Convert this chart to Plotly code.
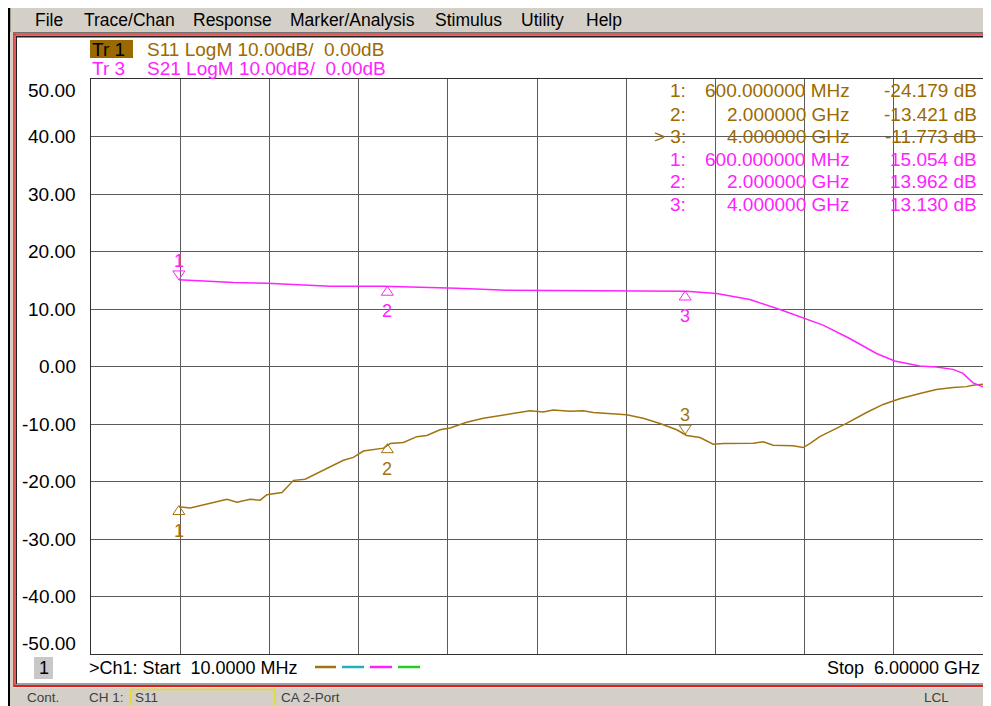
import plotly.graph_objects as go

# ---------------- data ----------------
start_ghz = 0.01
stop_ghz = 6.0
y_ticks = [50, 40, 30, 20, 10, 0, -10, -20, -30, -40, -50]

s11_freq = [0.60, 0.676, 0.811, 0.923, 0.990, 1.079, 1.146, 1.191, 1.292, 1.370,
            1.448, 1.571, 1.705, 1.772, 1.839, 1.974, 2.019, 2.108, 2.198, 2.265,
            2.354, 2.421, 2.533, 2.645, 2.824, 2.958, 3.047, 3.114, 3.226, 3.316,
            3.383, 3.495, 3.607, 3.718, 3.831, 3.943, 4.010, 4.099, 4.188, 4.256,
            4.457, 4.524, 4.591, 4.725, 4.792, 4.837, 4.904, 5.083, 5.218, 5.329,
            5.441, 5.576, 5.687, 5.799, 5.889, 5.933, 6.0]
s11_db = [-24.4, -24.6, -23.8, -23.1, -23.6, -23.1, -23.25, -22.3, -21.9, -19.8,
          -19.6, -18.0, -16.3, -15.8, -14.7, -14.2, -13.4, -13.2, -12.2, -12.0,
          -11.0, -10.7, -9.7, -9.0, -8.2, -7.7, -7.9, -7.55, -7.8, -7.7,
          -8.0, -8.2, -8.4, -9.0, -9.9, -11.0, -12.0, -12.35, -13.5, -13.4,
          -13.35, -13.1, -13.7, -13.8, -14.1, -13.4, -12.2, -9.9, -8.0, -6.6,
          -5.6, -4.7, -4.0, -3.65, -3.5, -3.25, -3.1]

s21_freq = [0.60, 0.788, 0.967, 1.191, 1.370, 1.616, 1.974, 2.198, 2.466, 2.802,
            3.092, 3.607, 4.010, 4.211, 4.435, 4.636, 4.792, 4.926, 5.105, 5.285,
            5.407, 5.575, 5.687, 5.799, 5.866, 5.933, 6.0]
s21_db = [15.1, 14.8, 14.6, 14.5, 14.3, 13.97, 13.97, 13.85, 13.6, 13.27,
          13.2, 13.15, 13.1, 12.7, 11.65, 9.9, 8.45, 7.2, 4.87, 2.26,
          0.97, 0.1, -0.07, -0.5, -1.2, -2.85, -3.55]

marker_ids = [1, 2, 3]
marker_freq = [0.6, 2.0, 4.0]
marker_freq_text = ["600.000000 MHz", "2.000000 GHz", "4.000000 GHz"]
s11_marker_db = [-24.179, -13.421, -11.773]
s21_marker_db = [15.054, 13.962, 13.130]
s11_marker_above = [False, False, True]
s21_marker_above = [True, False, False]

menu_items = ["File", "Trace/Chan", "Response", "Marker/Analysis", "Stimulus", "Utility", "Help"]
menu_x = [33, 82, 191, 288, 433, 519, 584]

status_items = ["Cont.", "CH 1:", "S11", "CA 2-Port", "LCL"]
status_x = [25, 87, 133, 279, 922]

# ---------------- styling ----------------
BROWN = "#a07410"
BROWN_TXT = "#9c6a00"
MAG = "#ff22ff"
FONT = "Liberation Sans, Arial, sans-serif"

OFF = 8  # page body margin of the html page
W, H = 991 - OFF, 706 - OFF
L, R, T, B = 91 - OFF, 8, 79 - OFF, 52
PW, PH = W - L - R, H - T - B


def px(x):  # page pixel -> paper
    return (x - OFF - L) / PW


def py(y):
    return (H - B - (y - OFF)) / PH


fig = go.Figure()
fig.add_trace(go.Scatter(x=s11_freq, y=s11_db, mode="lines",
                         line=dict(color=BROWN, width=1.5), hoverinfo="skip"))
fig.add_trace(go.Scatter(x=s21_freq, y=s21_db, mode="lines",
                         line=dict(color=MAG, width=1.5), hoverinfo="skip"))

shapes = []
ann = []


def rect(x0, y0, x1, y1, fill=None, line=None, lw=1):
    shapes.append(dict(type="rect", xref="paper", yref="paper",
                       x0=px(x0), x1=px(x1), y0=py(y1), y1=py(y0),
                       fillcolor=fill if fill else "rgba(0,0,0,0)",
                       line=dict(color=line if line else "rgba(0,0,0,0)", width=lw if line else 0),
                       layer="above"))


def hline(y, x0, x1, color, w):
    shapes.append(dict(type="line", xref="paper", yref="paper",
                       x0=px(x0), x1=px(x1), y0=py(y), y1=py(y),
                       line=dict(color=color, width=w), layer="above"))


def vline(x, y0, y1, color, w):
    shapes.append(dict(type="line", xref="paper", yref="paper",
                       x0=px(x), x1=px(x), y0=py(y0), y1=py(y1),
                       line=dict(color=color, width=w), layer="above"))


def text(t, x, y, anchor="left", size=19, color="black"):
    ann.append(dict(text=t, xref="paper", yref="paper", x=px(x), y=py(y),
                    xanchor=anchor, yanchor="middle", showarrow=False,
                    font=dict(family=FONT, size=size, color=color)))


# window chrome
rect(9, 6, 991, 32, fill="#d4d0c8")
hline(6.5, 8, 991, "#000000", 2)
vline(9, 6, 706, "#000000", 2.5)
rect(10, 32, 14, 706, fill="#d4d0c8")
hline(32.5, 13, 991, "#707070", 1)
hline(34, 14, 991, "#e02020", 1.5)
hline(36.5, 16, 991, "#202020", 2)
vline(13.5, 32, 687, "#707070", 1)
vline(15, 34, 686, "#e02020", 1.5)
vline(16.5, 36, 684, "#202020", 1)
hline(684, 16, 991, "#404040", 1)
hline(686, 14, 991, "#e02020", 2)
rect(10, 687.5, 991, 706, fill="#d4d0c8")

for name, x in zip(menu_items, menu_x):
    text(name, x, 20, size=17.5)

# trace legend
rect(90, 40, 133, 58, fill="#9a6a00")
text("Tr 1", 90, 49, color="black")
text("S11 LogM 10.00dB/\u00a0\u00a00.00dB", 145, 49, color=BROWN_TXT)
text("Tr 3", 90, 68, color=MAG)
text("S21 LogM 10.00dB/\u00a0\u00a00.00dB", 145, 68, color=MAG)

# marker table
row_y = [91, 114, 136.5, 159, 181, 204]
rows = ([(i, f, v, BROWN_TXT) for i, f, v in zip(marker_ids, marker_freq_text, s11_marker_db)] +
        [(i, f, v, MAG) for i, f, v in zip(marker_ids, marker_freq_text, s21_marker_db)])
for k, (i, f, v, c) in enumerate(rows):
    lab = f"{i}:" if not (k == 2) else f">\u00a0{i}:"
    text(lab, 688, row_y[k], anchor="right", color=c)
    text(f, 852, row_y[k], anchor="right", color=c)
    text(f"{v:.3f} dB", 979, row_y[k], anchor="right", color=c)

# y tick labels
for v in y_ticks:
    shift = -11 if v == y_ticks[0] else (11 if v == y_ticks[-1] else 0)
    ann.append(dict(text=f"{v:.2f}", xref="paper", yref="y", x=px(78), y=v, yshift=shift,
                    xanchor="right", yanchor="middle", showarrow=False,
                    font=dict(family=FONT, size=19, color="black")))

# marker triangles and numbers
for freqs, vals, above, col in [(marker_freq, s11_marker_db, s11_marker_above, BROWN),
                                (marker_freq, s21_marker_db, s21_marker_above, MAG)]:
    for i, f, v, a in zip(marker_ids, freqs, vals, above):
        path = "M -6,9 L 6,9 L 0,0 Z" if a else "M -6,-9 L 6,-9 L 0,0 Z"
        shapes.append(dict(type="path", xref="x", yref="y", xsizemode="pixel", ysizemode="pixel",
                           xanchor=f, yanchor=v, path=path,
                           line=dict(color=col, width=1), fillcolor="rgba(0,0,0,0)", layer="above"))
        ann.append(dict(text=str(i), xref="x", yref="y", x=f, y=v, yshift=19 if a else -25,
                        xanchor="center", yanchor="middle", showarrow=False,
                        font=dict(family=FONT, size=18, color=col)))

# reference level arrow
shapes.append(dict(type="path", xref="paper", yref="y", xsizemode="pixel", ysizemode="pixel",
                   xanchor=1, yanchor=0, path="M 0,0 L 8,5 L 8,-5 Z",
                   line=dict(color="#a06a00", width=1), fillcolor="#a06a00", layer="above"))

# channel line
rect(34, 657, 53, 679, fill="#c8c8c8")
text("1", 43.5, 668, anchor="center", size=18)
text(">Ch1: Start\u00a0\u00a010.0000 MHz", 87, 668, size=18)
for (x0, x1), c in zip([(315, 336), (342, 364), (370, 392), (398, 420)],
                       [BROWN, "#20b0c0", "#ff20ff", "#20d020"]):
    hline(667, x0, x1, c, 2.5)
text("Stop\u00a0\u00a06.00000 GHz", 982, 668, anchor="right", size=18)

# status bar
rect(131, 689.5, 275, 708, line="#e8e000", lw=1.5)
for t, x in zip(status_items, status_x):
    text(t, x, 697.5, size=13.5, color="#404040")

fig.update_layout(
    width=W, height=H,
    margin=dict(l=L, r=R, t=T, b=B, pad=0),
    paper_bgcolor="white", plot_bgcolor="white",
    showlegend=False,
    shapes=shapes, annotations=ann,
    xaxis=dict(range=[start_ghz, stop_ghz], tickmode="linear", tick0=start_ghz,
               dtick=(stop_ghz - start_ghz) / 10, showticklabels=False, ticks="",
               showgrid=True, gridcolor="#5a5a5a", gridwidth=1, zeroline=False,
               showline=True, mirror=True, linecolor="#303030", linewidth=1),
    yaxis=dict(range=[-50, 50], tickmode="linear", tick0=0, dtick=10,
               showticklabels=False, ticks="",
               showgrid=True, gridcolor="#5a5a5a", gridwidth=1, zeroline=False,
               showline=True, mirror=True, linecolor="#303030", linewidth=1),
)

fig.write_html("out.html", config={"displayModeBar": False})
